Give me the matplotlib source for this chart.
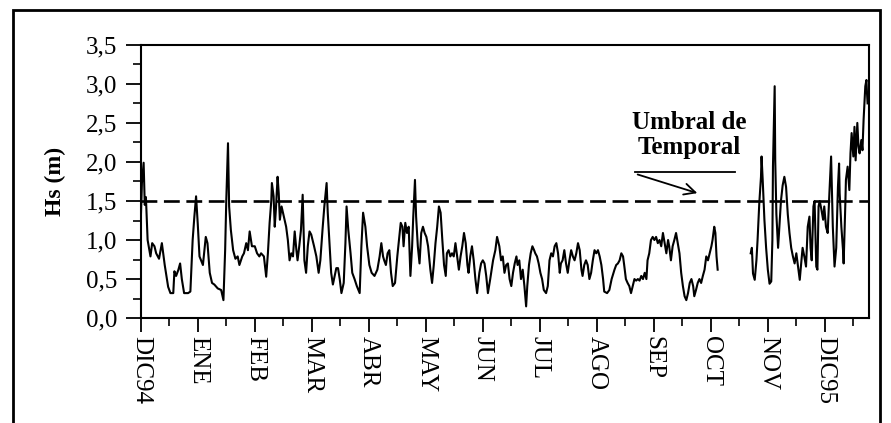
import numpy as np
import matplotlib
matplotlib.use('Agg')
import matplotlib.pyplot as plt
from matplotlib.patches import Rectangle

plt.rcParams['font.family'] = ['Liberation Serif', 'DejaVu Serif']

# time in months since 1 Dec 1994, Hs in metres
t1 = [0.00, 0.02, 0.05, 0.07, 0.09, 0.12, 0.17, 0.20, 0.24, 0.27, 0.32, 0.37, 0.42, 0.48, 0.52, 0.57,
      0.59, 0.62, 0.66, 0.69, 0.72, 0.76, 0.83, 0.87, 0.91, 0.94, 0.97, 1.00, 1.03, 1.09, 1.14, 1.17,
      1.21, 1.25, 1.29, 1.35, 1.41, 1.45, 1.48, 1.50, 1.53, 1.55, 1.58, 1.62, 1.66, 1.70, 1.73, 1.78,
      1.81, 1.85, 1.88, 1.91, 1.95, 2.00, 2.04, 2.08, 2.11, 2.16, 2.20, 2.23, 2.26, 2.29, 2.30, 2.33,
      2.35, 2.37, 2.40, 2.42, 2.44, 2.47, 2.51, 2.55, 2.58, 2.61, 2.64, 2.67, 2.70, 2.73, 2.75, 2.78,
      2.81, 2.84, 2.87, 2.90, 2.93, 2.96, 2.99, 3.04, 3.08, 3.12, 3.15, 3.19, 3.22, 3.26, 3.28, 3.31,
      3.34, 3.37, 3.43, 3.46, 3.49, 3.52, 3.56, 3.59, 3.61, 3.64, 3.68, 3.71, 3.75, 3.79, 3.84, 3.87,
      3.90, 3.94, 3.97, 4.01, 4.05, 4.10, 4.15, 4.19, 4.22, 4.25, 4.27, 4.30, 4.33, 4.36, 4.39, 4.42,
      4.46, 4.50, 4.53, 4.56, 4.59, 4.61, 4.64, 4.67, 4.70, 4.73, 4.76, 4.78, 4.81, 4.83, 4.86, 4.89,
      4.92, 4.95, 4.98, 5.01, 5.04, 5.08, 5.11, 5.14, 5.17, 5.20, 5.23, 5.26, 5.29, 5.32, 5.35, 5.37,
      5.40, 5.43, 5.46, 5.49, 5.52, 5.55, 5.58, 5.61, 5.64, 5.67, 5.70, 5.73, 5.75, 5.78, 5.81, 5.84,
      5.87, 5.90, 5.94, 5.97, 6.00, 6.03, 6.06, 6.09, 6.13, 6.18, 6.22, 6.25, 6.29, 6.32, 6.35, 6.38,
      6.41, 6.44, 6.47, 6.50, 6.53, 6.56, 6.59, 6.61, 6.64, 6.67, 6.70, 6.73, 6.76, 6.78, 6.81, 6.84,
      6.87, 6.90, 6.92, 6.95, 6.98, 7.01, 7.04, 7.07, 7.11, 7.14, 7.17, 7.20, 7.23, 7.26, 7.29, 7.32,
      7.35, 7.37, 7.40, 7.43, 7.46, 7.49, 7.52, 7.55, 7.58, 7.61, 7.64, 7.67, 7.70, 7.73, 7.75, 7.78,
      7.81, 7.84, 7.87, 7.90, 7.93, 7.96, 7.99, 8.02, 8.05, 8.08, 8.11, 8.13, 8.18, 8.22, 8.26, 8.31,
      8.34, 8.37, 8.40, 8.43, 8.46, 8.48, 8.51, 8.54, 8.57, 8.60, 8.63, 8.66, 8.69, 8.72, 8.75, 8.78,
      8.81, 8.84, 8.87, 8.89, 8.92, 8.95, 8.98, 9.01, 9.04, 9.07, 9.10, 9.13, 9.16, 9.19, 9.22, 9.25,
      9.27, 9.30, 9.33, 9.36, 9.39, 9.42, 9.45, 9.48, 9.51, 9.54, 9.57, 9.60, 9.63, 9.66, 9.69, 9.71,
      9.74, 9.77, 9.80, 9.83, 9.86, 9.89, 9.92, 9.95, 9.98, 10.01, 10.03, 10.06, 10.08, 10.10, 10.12]
hs1 = [1.25, 1.73, 1.99, 1.45, 1.55, 1.00, 0.79, 0.96, 0.92, 0.83, 0.76, 0.96, 0.68, 0.40, 0.32, 0.32,
       0.60, 0.54, 0.62, 0.70, 0.50, 0.32, 0.32, 0.34, 1.00, 1.30, 1.56, 1.20, 0.79, 0.68, 1.04, 0.96,
       0.58, 0.45, 0.43, 0.38, 0.36, 0.23, 0.87, 1.51, 2.24, 1.43, 1.13, 0.87, 0.76, 0.79, 0.68, 0.79,
       0.83, 0.96, 0.87, 1.11, 0.92, 0.92, 0.83, 0.79, 0.83, 0.79, 0.53, 0.83, 1.22, 1.51, 1.73, 1.56,
       1.17, 1.39, 1.81, 1.60, 1.26, 1.43, 1.30, 1.17, 1.00, 0.74, 0.83, 0.79, 1.11, 0.87, 0.74, 0.92,
       1.13, 1.58, 0.74, 0.58, 0.92, 1.11, 1.07, 0.92, 0.79, 0.58, 0.74, 1.15, 1.43, 1.73, 1.35, 0.96,
       0.58, 0.43, 0.64, 0.64, 0.50, 0.32, 0.45, 0.96, 1.43, 1.13, 0.83, 0.58, 0.50, 0.41, 0.32, 0.92,
       1.35, 1.17, 0.92, 0.68, 0.58, 0.54, 0.62, 0.79, 0.96, 0.79, 0.74, 0.68, 0.83, 0.87, 0.58, 0.41,
       0.45, 0.79, 1.00, 1.22, 1.17, 0.92, 1.22, 1.09, 1.17, 0.54, 0.92, 1.30, 1.77, 1.30, 0.92, 0.70,
       1.09, 1.17, 1.09, 1.04, 0.92, 0.62, 0.45, 0.68, 0.96, 1.17, 1.43, 1.35, 1.00, 0.68, 0.54, 0.83,
       0.87, 0.79, 0.83, 0.79, 0.96, 0.79, 0.62, 0.79, 0.92, 1.09, 0.96, 0.68, 0.58, 0.79, 0.92, 0.74,
       0.50, 0.32, 0.58, 0.70, 0.74, 0.70, 0.54, 0.32, 0.50, 0.74, 0.87, 1.04, 0.92, 0.74, 0.79, 0.58,
       0.68, 0.70, 0.50, 0.41, 0.58, 0.70, 0.79, 0.68, 0.74, 0.50, 0.62, 0.41, 0.15, 0.41, 0.68, 0.83,
       0.92, 0.87, 0.83, 0.79, 0.70, 0.58, 0.50, 0.36, 0.32, 0.41, 0.74, 0.83, 0.79, 0.92, 0.96, 0.83,
       0.58, 0.70, 0.74, 0.87, 0.70, 0.58, 0.74, 0.87, 0.79, 0.74, 0.83, 0.96, 0.87, 0.62, 0.54, 0.68,
       0.74, 0.68, 0.50, 0.58, 0.74, 0.87, 0.83, 0.87, 0.79, 0.68, 0.50, 0.34, 0.32, 0.36, 0.50, 0.62,
       0.68, 0.70, 0.74, 0.83, 0.79, 0.68, 0.50, 0.45, 0.41, 0.32, 0.41, 0.50, 0.48, 0.50, 0.48, 0.54,
       0.50, 0.58, 0.50, 0.74, 0.83, 1.00, 1.04, 1.00, 1.04, 0.96, 1.00, 0.92, 1.09, 0.96, 0.83, 1.00,
       0.92, 0.74, 0.92, 1.00, 1.09, 0.96, 0.83, 0.58, 0.41, 0.28, 0.23, 0.32, 0.45, 0.50, 0.41, 0.28,
       0.36, 0.45, 0.50, 0.45, 0.54, 0.62, 0.79, 0.74, 0.83, 0.92, 1.00, 1.17, 1.09, 0.79, 0.62]

t2 = [10.70, 10.72, 10.74, 10.77, 10.80, 10.82, 10.85, 10.88, 10.89, 10.91, 10.94, 10.97, 11.00, 11.03,
      11.06, 11.08, 11.09, 11.12, 11.13, 11.15, 11.18, 11.21, 11.23, 11.26, 11.29, 11.32, 11.35, 11.38,
      11.41, 11.44, 11.47, 11.50, 11.53, 11.56, 11.59, 11.61, 11.64, 11.67, 11.70, 11.73, 11.75, 11.77,
      11.80, 11.82, 11.85, 11.87, 11.89, 11.91, 11.94, 11.97, 11.99, 12.02, 12.05, 12.08, 12.11, 12.14,
      12.17, 12.20, 12.23, 12.25, 12.26, 12.29, 12.32, 12.33, 12.36, 12.37, 12.40, 12.43, 12.45, 12.47,
      12.50, 12.52, 12.54, 12.57, 12.59, 12.61, 12.64, 12.66, 12.68, 12.71, 12.73, 12.74, 12.75]
hs2 = [0.83, 0.90, 0.57, 0.49, 0.74, 1.00, 1.47, 1.81, 2.07, 1.77, 1.26, 0.90, 0.62, 0.44,
       0.47, 1.00, 1.94, 2.97, 2.02, 1.33, 0.90, 1.26, 1.50, 1.70, 1.81, 1.68, 1.33, 1.09,
       0.90, 0.79, 0.70, 0.83, 0.66, 0.49, 0.74, 0.90, 0.79, 0.66, 1.17, 1.30, 0.90, 0.74,
       1.43, 1.50, 0.66, 0.62, 1.43, 1.50, 1.39, 1.26, 1.43, 1.17, 1.09, 1.60, 2.07, 1.17,
       0.66, 0.90, 1.68, 1.98, 1.60, 1.17, 0.86, 0.70, 1.47, 1.77, 1.94, 1.64, 2.11, 2.37,
       2.07, 2.45, 2.02, 2.50, 2.20, 2.11, 2.28, 2.15, 2.54, 2.97, 3.05, 2.88, 2.75]

months = ['DIC94', 'ENE', 'FEB', 'MAR', 'ABR', 'MAY', 'JUN', 'JUL', 'AGO', 'SEP', 'OCT', 'NOV', 'DIC95']
yvals = [0.0, 0.5, 1.0, 1.5, 2.0, 2.5, 3.0, 3.5]
ylabels = ['0,0', '0,5', '1,0', '1,5', '2,0', '2,5', '3,0', '3,5']
umbral = 1.5

fig = plt.figure(figsize=(8.91, 4.23), dpi=100)
ax = fig.add_axes([0.158, 0.248, 0.817, 0.646])

ax.plot(t1, hs1, color='black', lw=1.5)
ax.plot(t2, hs2, color='black', lw=1.5)
ax.axhline(umbral, color='black', lw=1.9, linestyle=(0, (6, 2.5)))

ax.set_xlim(0, 12.77)
ax.set_ylim(0, 3.5)
ax.set_xticks(range(len(months)))
ax.set_xticklabels(months, rotation=270, fontsize=18)
ax.set_xticks(np.arange(0.5, 13, 1.0), minor=True)
ax.set_yticks(yvals)
ax.set_yticklabels(ylabels, fontsize=18)
ax.set_yticks(np.arange(0.25, 3.5, 0.5), minor=True)
ax.tick_params(axis='x', which='major', direction='out', length=10, width=1.3, pad=3)
ax.tick_params(axis='x', which='minor', direction='out', length=6, width=1.2)
ax.tick_params(axis='y', which='major', direction='out', length=11, width=1.3, pad=6)
ax.tick_params(axis='y', which='minor', direction='out', length=6, width=1.2)
for s in ax.spines.values():
    s.set_linewidth(1.5)

ax.set_ylabel('Hs (m)', fontsize=17, fontweight='bold', labelpad=14)

ax.text(9.62, 2.35, 'Umbral de\nTemporal', ha='center', va='center', fontsize=18,
        fontweight='bold', linespacing=1.1)
ax.plot([8.67, 10.42], [1.87, 1.87], color='black', lw=1.3)
ax.annotate('', xy=(9.81, 1.59), xytext=(8.67, 1.85),
            arrowprops=dict(arrowstyle='->', color='black', lw=1.3, mutation_scale=20))

fig.patches.append(Rectangle((13 / 891, -0.1), (880 - 13) / 891, 1.1 - 10 / 423,
                             transform=fig.transFigure, fill=False, edgecolor='black',
                             lw=2, clip_on=False))

fig.savefig('out.png', dpi=100)
